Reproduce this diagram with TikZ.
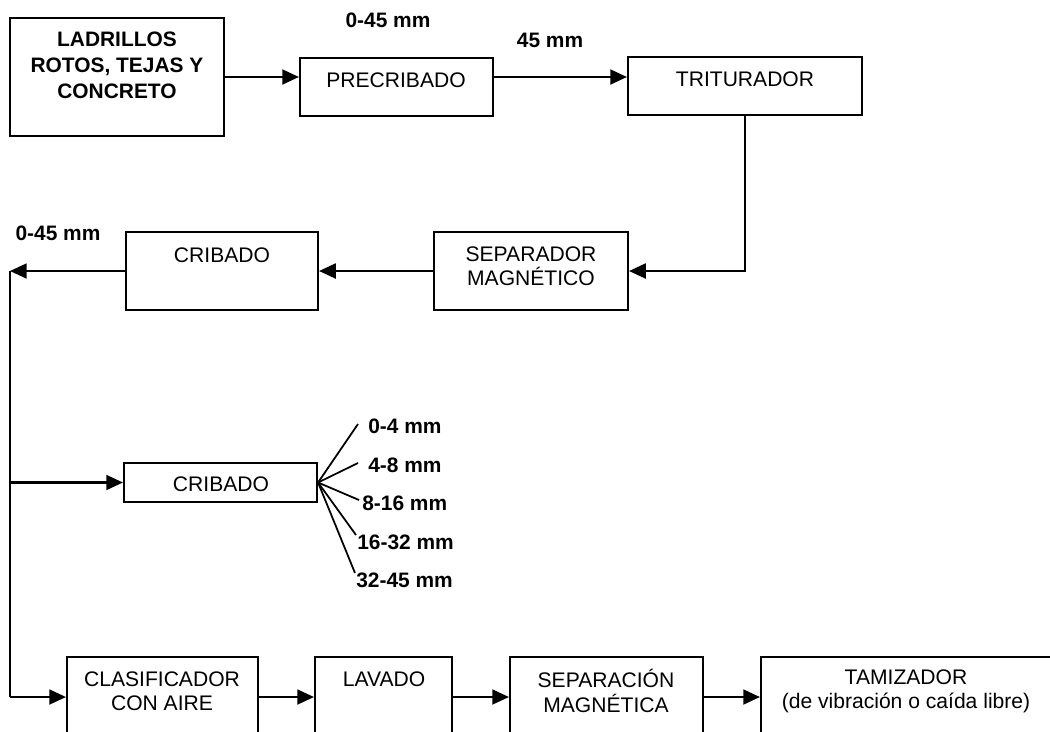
\documentclass[tikz,border=0pt]{standalone}
\usepackage{fontspec}
\setmainfont{Liberation Sans}
\usetikzlibrary{arrows.meta}

\def\pxu{0.02cm}
% rectangle node given by its left, top, right and bottom edges
\newcommand\flowbox[5]{%
  \node[box, minimum width={(#4-#2)*\pxu}, minimum height={(#5-#3)*\pxu}]
    (#1) at ({(#2+#4)/2},{(#3+#5)/2}) {};}

\tikzset{
  box/.style={draw, line width=1.2pt, inner sep=0pt},
  txt/.style={font=\fontsize{12}{13.8}\selectfont, align=center, inner sep=0pt},
  lbl/.style={font=\fontsize{11.9}{14.7}\selectfont\bfseries, align=center, inner sep=0pt},
  arr/.style={line width=1.2pt, -{Triangle[length=9.5pt,width=8.5pt]}},
  ln/.style={line width=1.2pt},
}

\begin{document}
\begin{tikzpicture}[x=0.02cm,y=-0.02cm]
\fill[white] (0,0) rectangle (1050,731);
\clip (0,0) rectangle (1050,731);

% --- boxes ---
\flowbox{ladr}{10}{18}{224}{136}
\flowbox{prec}{300}{58}{493}{116}
\flowbox{trit}{628}{57}{862}{115}
\flowbox{sepm}{434}{232}{628}{310}
\flowbox{cribA}{126}{232}{318}{310}
\flowbox{cribB}{124}{463}{317}{502}
\flowbox{clas}{67}{657}{258}{790}
\flowbox{lav}{315}{657}{452}{790}
\flowbox{sepa}{510}{657}{703}{790}
\flowbox{tami}{761}{657}{1056}{790}

% --- box texts ---
\node[lbl] (ladr-t) at (117,65.5) {LADRILLOS\\ROTOS, TEJAS Y\\CONCRETO};
\node[txt] (prec-t) at (396,80) {PRECRIBADO};
\node[txt] (trit-t) at (745,79) {TRITURADOR};
\node[txt] (sepm-t) at (531,266.5) {SEPARADOR\\MAGNÉTICO};
\node[txt] (cribA-t) at (222,255) {CRIBADO};
\node[txt] (cribB-t) at (221,484) {CRIBADO};
\node[txt] (clas-t) at (162,691) {CLASIFICADOR\\CON AIRE};
\node[txt] (lav-t) at (384,679) {LAVADO};
\node[txt] (sepa-t) at (606,691) {SEPARACIÓN\\MAGNÉTICA};
\node[txt] (tami-t) at (906,691) {TAMIZADOR\\(de vibración o caída libre)};

% --- size labels ---
\node[lbl] (s045a) at (388,20) {0-45 mm};
\node[lbl] (s45) at (550,40) {45 mm};
\node[lbl] (s045b) at (58,233) {0-45 mm};

% --- flow rows ---
\coordinate (r1) at (0,77);
\coordinate (r2) at (0,271);
\coordinate (r3) at (0,697);
\coordinate (lft) at (10,271);

\draw[arr] (ladr.east |- r1) -- (prec.west |- r1);
\draw[arr] (prec.east |- r1) -- (trit.west |- r1);
\draw[arr] (trit.south) |- (sepm.east |- r2);
\draw[arr] (sepm.west |- r2) -- (cribA.east |- r2);
\draw[arr] (cribA.west |- r2) -- (lft);
\draw[ln] (lft) -- (lft |- r3);
\draw[arr] (lft |- cribB) -- (cribB.west);
\draw[arr] (lft |- r3) -- (clas.west |- r3);
\draw[arr] (clas.east |- r3) -- (lav.west |- r3);
\draw[arr] (lav.east |- r3) -- (sepa.west |- r3);
\draw[arr] (sepa.east |- r3) -- (tami.west |- r3);

% --- screened fractions ---
\coordinate (f1) at (358,424);
\coordinate (f2) at (358,463);
\coordinate (f3) at (359,500);
\coordinate (f4) at (356,535);
\coordinate (f5) at (355,573);
\foreach \f in {f1,f2,f3,f4,f5}
  \draw[line width=1pt] (cribB.east) -- (\f);
\node[lbl, anchor=west] (g1) at (368,426) {0-4 mm};
\node[lbl, anchor=west] (g2) at (368,465) {4-8 mm};
\node[lbl, anchor=west] (g3) at (362,503) {8-16 mm};
\node[lbl, anchor=west] (g4) at (357,542) {16-32 mm};
\node[lbl, anchor=west] (g5) at (356,580) {32-45 mm};
\end{tikzpicture}
\end{document}
